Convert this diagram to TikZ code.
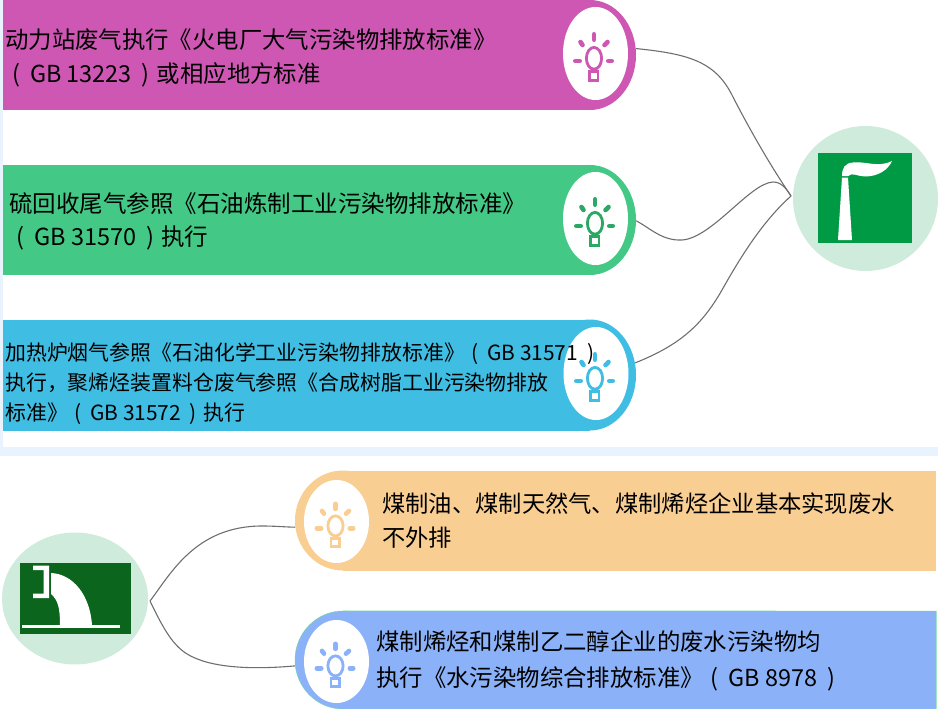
\documentclass[tikz,border=0pt]{standalone}
\usepackage{fontspec}
\setmainfont{Noto Sans CJK SC}
\usetikzlibrary{shapes.geometric,positioning}
\definecolor{pinkbar}{HTML}{CD57B3}
\definecolor{greenbar}{HTML}{43C985}
\definecolor{cyanbar}{HTML}{40BDE2}
\definecolor{orangebar}{HTML}{F8CE92}
\definecolor{bluebar}{HTML}{8BB2F8}
\definecolor{greenlamp}{HTML}{2BA866}
\definecolor{hubgreen}{HTML}{CFEBDC}
\definecolor{signgreen}{HTML}{009A44}
\definecolor{signdark}{HTML}{0B651D}
\definecolor{band}{HTML}{E8F3FD}
\definecolor{edgegray}{HTML}{6E6E6E}
\definecolor{bluerim}{HTML}{70D8A0}
\tikzset{
  barbody/.style={draw=none,inner sep=0pt,anchor=north west},
  barcap/.style={ellipse,inner sep=0pt,minimum width=#1},
  lampface/.style={ellipse,fill=white,inner sep=0pt,minimum width=65pt},
  hubdisc/.style={ellipse,fill=hubgreen,inner sep=0pt},
  bartext/.style={anchor=west,align=left,inner sep=0pt,text=black},
  linkline/.style={draw=edgegray,line width=1.1pt},
}
% standard number with its loose brackets
\newcommand{\gbcode}[1]{\hspace*{.3em}(\hspace{.43em}GB #1\hspace{.43em})\hspace{.3em}}
% lamp icon: x, y, colour, height factor
\newcommand{\lampicon}[4]{
  \begin{scope}[shift={(#1,#2)},yscale=#4,#3,line cap=round]
    \draw [line width=4.6pt] (-1.5,19.2) -- (-1.5,13.8);
    \draw [line width=4.6pt] (-15,11.5) -- (-13,8.5);
    \draw [line width=4.6pt] (12,11.5) -- (9,8.5);
    \draw [line width=4.6pt] (-20.2,-7.5) -- (-15.8,-7.5);
    \draw [line width=4.6pt] (12.8,-7.5) -- (16.2,-7.5);
    \draw [line width=2.8pt] (-1.5,-4.8) ellipse (7.6 and 10.9);
    \draw [line width=2.6pt,line cap=butt] (-5.9,-18.2) rectangle (2.5,-27.2);
  \end{scope}
}
\begin{document}
\begin{tikzpicture}[x=1pt,y=1pt]
  \useasboundingbox (0,0) rectangle (938,-709);
  % page bands
  \fill [band] (0,-447) rectangle (938,-456);
  \fill [band] (0,0) rectangle (2.5,-447);

  % bars
  \node [barcap=92pt,minimum height=110pt,fill=pinkbar] (capA) at (590,-55) {};
  \node [barbody,fill=pinkbar,minimum width=587.5pt,minimum height=110pt] (barA) at (2.5,0) {};
  \node [barcap=92pt,minimum height=110pt,fill=greenbar] (capB) at (590,-220) {};
  \node [barbody,fill=greenbar,minimum width=587.5pt,minimum height=110pt] (barB) at (2.5,-165) {};
  \node [barcap=92pt,minimum height=111pt,fill=cyanbar] (capC) at (590,-375) {};
  \node [barbody,fill=cyanbar,minimum width=587.5pt,minimum height=111pt] (barC) at (2.5,-319.5) {};
  \node [barcap=96pt,minimum height=100pt,fill=orangebar] (capD) at (343,-520.5) {};
  \node [barbody,fill=orangebar,minimum width=593pt,minimum height=100pt] (barD) at (343,-470.5) {};
  \node [barcap=96pt,minimum height=98pt,fill=bluebar,draw=bluerim] (capE) at (343,-660) {};
  \node [barbody,fill=bluebar,minimum width=593pt,minimum height=98pt] (barE) at (343,-611) {};
  \draw [bluerim] (capE.north) -- (barE.north east) -- (barE.south east);

  % lamp faces
  \node [lampface,minimum height=93pt] (lampA) at (595.5,-53.5) {};
  \node [lampface,minimum height=93pt] (lampB) at (595.5,-218.5) {};
  \node [lampface,minimum height=93pt] (lampC) at (596,-373.5) {};
  \node [lampface,minimum height=83pt] (lampD) at (336.5,-521.5) {};
  \node [lampface,minimum height=83pt] (lampE) at (336.5,-661.5) {};
  \lampicon{595.5}{-53.5}{pinkbar}{1}
  \lampicon{596.5}{-218.5}{greenlamp}{1}
  \lampicon{596.5}{-373.5}{cyanbar}{1}
  \lampicon{337}{-521.5}{orangebar}{0.92}
  \lampicon{337}{-661.5}{bluebar}{0.92}

  % hubs
  \node [hubdisc,minimum width=145pt,minimum height=145pt] (hubTop) at (865.5,-198.5) {};
  \node [hubdisc,minimum width=146pt,minimum height=132pt] (hubLow) at (75,-598.5) {};
  \node [fill=signgreen,inner sep=0pt,minimum width=94pt,minimum height=90pt] (stack) at (865,-198) {};
  \node [fill=signdark,inner sep=0pt,minimum width=111pt,minimum height=71pt] (drain) at (75,-598.5) {};

  % chimney
  \fill [white] (842,-177.5) -- (848,-177.5) -- (852,-240) -- (838,-240) -- cycle;
  \fill [white] (842,-176) .. controls (842,-168) and (845,-163) .. (853,-162.5)
    .. controls (866,-161) and (878,-168) .. (892,-161)
    .. controls (888,-170) and (878,-176.5) .. (865,-176.5)
    .. controls (858,-176.5) and (852,-172) .. (848,-176) -- cycle;

  % drain
  \draw [white,line width=3pt] (22,-626) -- (120,-626);
  \fill [white] (33,-565.5) -- (49,-565.5) -- (49,-598) -- (33,-598) -- (33,-593.5)
    -- (43.5,-593.5) -- (43.5,-570) -- (33,-570) -- cycle;
  \fill [white] (51,-573) .. controls (73,-574) and (90,-595) .. (92,-625)
    -- (60,-625) .. controls (60,-608) and (58,-600) .. (51,-594) -- cycle;

  % links
  \coordinate (meetTop) at (791,-196);
  \coordinate (meetLow) at (150,-601);
  \draw [linkline] (capA.8) .. controls (690,-54) and (716,-62) .. (733,-97)
    .. controls (750,-130) and (770,-165) .. (meetTop);
  \draw [linkline] (capB.-1) .. controls (650,-228) and (662,-241) .. (682,-240)
    .. controls (712,-238) and (750,-183) .. (773,-182)
    .. controls (781,-182) and (786,-188) .. (meetTop);
  \draw [linkline] (capC.15) .. controls (680,-345) and (702,-325) .. (722,-290)
    .. controls (740,-258) and (762,-222) .. (meetTop);
  \draw [linkline] (meetLow) .. controls (170,-575) and (195,-526) .. (262,-526)
    .. controls (275,-526) and (285,-527) .. (capD.188);
  \draw [linkline] (meetLow) .. controls (165,-632) and (175,-650) .. (195,-658)
    .. controls (215,-667) and (250,-670) .. (capE.187);

  % texts
  \node [bartext,font=\fontsize{23.4}{34}\selectfont] (textA) at (5,-58) {动力站废气执行《火电厂大气污染物排放标准》\\\gbcode{13223}或相应地方标准};
  \node [bartext,font=\fontsize{23.5}{33}\selectfont] (textB) at (9,-221.5) {硫回收尾气参照《石油炼制工业污染物排放标准》\\\gbcode{31570}执行};
  \node [bartext,font=\fontsize{20.9}{30}\selectfont] (textC) at (5,-384) {加热炉烟气参照《石油化学工业污染物排放标准》\gbcode{31571}\\执行，聚烯烃装置料仓废气参照《合成树脂工业污染物排放\\标准》\gbcode{31572}执行};
  \node [bartext,font=\fontsize{23.3}{34}\selectfont] (textD) at (382,-521) {煤制油、煤制天然气、煤制烯烃企业基本实现废水\\不外排};
  \node [bartext,font=\fontsize{23.4}{36}\selectfont] (textE) at (376,-661) {煤制烯烃和煤制乙二醇企业的废水污染物均\\执行《水污染物综合排放标准》\gbcode{8978}};
\end{tikzpicture}
\end{document}
